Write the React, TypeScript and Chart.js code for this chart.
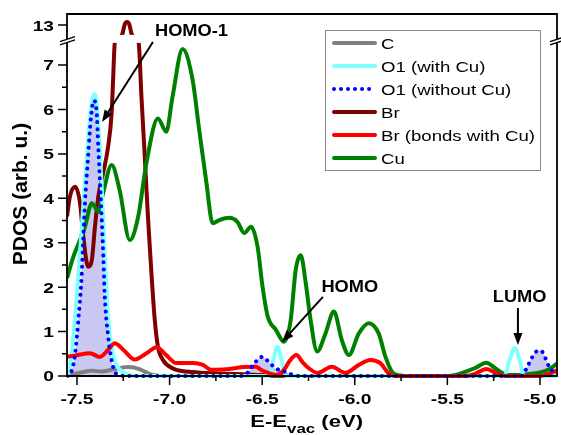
import React, { useEffect, useRef } from 'react';
import { Chart, registerables, LinearScale } from 'chart.js';

Chart.register(...registerables);

// ---------------- data ----------------
const X_MIN = -7.554;
const X_MAX = -4.908;
const X_MAJOR = [-7.5, -7.0, -6.5, -6.0, -5.5, -5.0];
const X_LABELS = ['-7.5', '-7.0', '-6.5', '-6.0', '-5.5', '-5.0'];
const X_MINOR = [-7.25, -6.75, -6.25, -5.75, -5.25];
const Y_MAJOR = [0, 1, 2, 3, 4, 5, 6, 7, 13];
const Y_LABELS = ['0', '1', '2', '3', '4', '5', '6', '7', '13'];
const Y_MINOR = [0.5, 1.5, 2.5, 3.5, 4.5, 5.5, 6.5];

// broken y axis: 0..7.55 then 12.75..13.25
const LOW_TOP = 7.55;
const HIGH_BOTTOM = 12.75;
const HIGH_TOP = 13.25;
const GAP = 0.1;

const SERIES_NAMES = ['C', 'O1 (with Cu)', 'O1 (without Cu)', 'Br', 'Br (bonds with Cu)', 'Cu'];

const C_E = [-7.554, -7.52, -7.48, -7.42, -7.37, -7.3, -7.22, -7.16, -7.11, -7.05, -4.908];
const C_PDOS = [0, 0.04, 0.08, 0.12, 0.1, 0.15, 0.2, 0.15, 0.05, 0, 0];

const O1CU_E = [-7.554, -7.54, -7.525, -7.508, -7.49, -7.475, -7.46, -7.445, -7.43, -7.415, -7.405, -7.395,
  -7.39, -7.378, -7.366, -7.355, -7.345, -7.335, -7.32, -7.3, -7.28, -7.25, -7.21, -7.18,
  -6.462, -6.44, -6.418, -6.395, -6.373, -5.193, -5.165, -5.136, -5.11, -5.086, -4.908];
const O1CU_PDOS = [0, 0.15, 0.6, 1.4, 2.4, 3.3, 4.2, 5.0, 5.8, 6.25, 6.35, 6.2,
  6.0, 5.2, 4.2, 3.2, 2.3, 1.5, 0.8, 0.4, 0.2, 0.08, 0.02, 0,
  0, 0.35, 0.66, 0.35, 0, 0, 0.35, 0.63, 0.35, 0, 0];

const O1_E = [-7.554, -7.53, -7.51, -7.493, -7.475, -7.466, -7.457, -7.44, -7.425, -7.41, -7.395, -7.385,
  -7.375, -7.366, -7.358, -7.35, -7.332, -7.313, -7.296, -7.27, -7.22, -6.62, -6.58, -6.535, -6.5,
  -6.465, -6.43, -6.38, -6.345, -6.3, -5.1, -5.075, -5.045, -5.02, -4.995, -4.97, -4.95, -4.93, -4.908];
const O1_PDOS = [0, 0.1, 0.5, 1.25, 2.25, 3.1, 3.9, 4.95, 5.8, 6.2, 6.0, 5.15,
  4.3, 3.5, 2.7, 1.8, 0.9, 0.35, 0.1, 0.02, 0, 0, 0.07, 0.32, 0.43,
  0.32, 0.18, 0.1, 0.04, 0, 0, 0.15, 0.4, 0.55, 0.57, 0.4, 0.2, 0.1, 0.05];

const BR_E = [-7.554, -7.538, -7.51, -7.484, -7.466, -7.44, -7.42, -7.403, -7.385, -7.359, -7.332, -7.313,
  -7.305, -7.296, -7.28, -7.265, -7.255, -7.242, -7.23, -7.218, -7.205, -7.19, -7.178, -7.167,
  -7.152, -7.134, -7.117, -7.098, -7.08, -7.063, -7.036, -6.982, -6.91, -6.8, -6.7, -6.6, -6.5,
  -6.4, -6.3, -4.908];
const BR_PDOS = [3.59, 4.04, 4.26, 3.9, 3.14, 2.46, 2.61, 3.36, 4.04, 4.56, 5.16, 5.92,
  6.67, 7.5, 9.5, 11.5, 12.8, 13.02, 13.07, 13.02, 12.8, 11.2, 9.2, 7.5,
  6.29, 4.94, 3.59, 2.31, 1.26, 0.66, 0.36, 0.17, 0.1, 0.07, 0.05, 0.04, 0.02,
  0.01, 0, 0];

const BRCU_E = [-7.554, -7.5, -7.43, -7.376, -7.332, -7.296, -7.25, -7.188, -7.125, -7.07, -7.018, -6.964,
  -6.875, -6.82, -6.776, -6.695, -6.606, -6.534, -6.507, -6.46, -6.426, -6.38, -6.35, -6.315,
  -6.28, -6.247, -6.2, -6.124, -6.05, -5.978, -5.916, -5.862, -5.817, -5.78, -5.4, -5.35,
  -5.29, -5.23, -5.18, -5.0, -4.95, -4.908];
const BRCU_PDOS = [0.43, 0.47, 0.51, 0.43, 0.59, 0.74, 0.59, 0.37, 0.51, 0.65, 0.47, 0.29,
  0.29, 0.25, 0.14, 0.15, 0.2, 0.21, 0.14, 0.06, 0.02, 0.15, 0.35, 0.47,
  0.3, 0.17, 0.07, 0.21, 0.07, 0.25, 0.36, 0.29, 0.06, 0, 0, 0.05,
  0.16, 0.05, 0, 0, 0.05, 0.13];

const CU_E = [-7.554, -7.52, -7.484, -7.457, -7.42, -7.385, -7.36, -7.313, -7.27, -7.215, -7.17, -7.125,
  -7.063, -7.018, -6.984, -6.93, -6.876, -6.84, -6.803, -6.767, -6.731, -6.677, -6.634, -6.597,
  -6.56, -6.525, -6.498, -6.47, -6.426, -6.382, -6.346, -6.319, -6.292, -6.265, -6.24, -6.203,
  -6.158, -6.113, -6.07, -6.032, -5.978, -5.925, -5.871, -5.835, -5.8, -5.763, -5.7, -5.5,
  -5.45, -5.4, -5.35, -5.29, -5.24, -5.2, -5.17, -5.1, -5.05, -5.0, -4.95, -4.908];
const CU_PDOS = [2.2, 2.68, 3.06, 3.36, 3.89, 3.7, 4.1, 4.75, 4.19, 3.06, 3.58, 4.8,
  5.8, 5.5, 6.29, 7.36, 6.67, 5.54, 4.41, 3.44, 3.51, 3.56, 3.47, 3.22,
  3.36, 2.91, 2.01, 1.34, 1.04, 0.77, 1.26, 2.39, 2.72, 2.1, 1.3, 0.55,
  0.96, 1.45, 0.81, 0.47, 0.96, 1.19, 0.96, 0.44, 0.1, 0.02, 0, 0,
  0.03, 0.1, 0.18, 0.3, 0.17, 0.06, 0.02, 0.02, 0.05, 0.08, 0.15, 0.28];

// annotations (data coordinates)
const ANNOTATIONS = [
  { text: 'HOMO-1', tx: -6.882, ty: 12.86, x1: -7.09, y1: 7.52, x2: -7.365, y2: 5.72 },
  { text: 'HOMO', tx: -6.027, ty: 2.0, x1: -6.172, y1: 1.78, x2: -6.393, y2: 0.765 },
  { text: 'LUMO', tx: -5.11, ty: 1.77, x1: -5.119, y1: 1.53, x2: -5.119, y2: 0.7 },
];

// ---------------- helpers ----------------
const FONT = '"Liberation Sans", Arial, sans-serif';

function toDisp(v: number): number {
  if (v <= LOW_TOP) return v;
  if (v < HIGH_BOTTOM) return LOW_TOP + ((v - LOW_TOP) / (HIGH_BOTTOM - LOW_TOP)) * GAP;
  return LOW_TOP + GAP + (v - HIGH_BOTTOM);
}
function fromDisp(d: number): number {
  if (d <= LOW_TOP) return d;
  if (d < LOW_TOP + GAP) return LOW_TOP + ((d - LOW_TOP) / GAP) * (HIGH_BOTTOM - LOW_TOP);
  return HIGH_BOTTOM + (d - LOW_TOP - GAP);
}

class BrokenLinearScale extends (LinearScale as any) {
  static id = 'brokenLinear';
  determineDataLimits() {
    (this as any).min = 0;
    (this as any).max = toDisp(HIGH_TOP);
  }
  buildTicks() {
    return Y_MAJOR.map((v) => ({ value: v }));
  }
  getPixelForValue(v: number) {
    return super.getPixelForValue(toDisp(v));
  }
  getValueForPixel(p: number) {
    return fromDisp(super.getValueForPixel(p));
  }
}
Chart.register(BrokenLinearScale as any);

const pts = (xs: number[], ys: number[]) => xs.map((x, i) => ({ x, y: ys[i] }));

function sText(ctx: CanvasRenderingContext2D, text: string, x: number, y: number, font: string, sx: number,
  align: 'left' | 'center' | 'right', baseline: CanvasTextBaseline = 'alphabetic') {
  ctx.save();
  ctx.font = font;
  ctx.textAlign = 'left';
  ctx.textBaseline = baseline;
  const w = ctx.measureText(text).width * sx;
  const x0 = align === 'center' ? x - w / 2 : align === 'right' ? x - w : x;
  ctx.translate(x0, y);
  ctx.scale(sx, 1);
  ctx.fillStyle = '#000';
  ctx.fillText(text, 0, 0);
  ctx.restore();
  return w;
}

function arrow(ctx: CanvasRenderingContext2D, x1: number, y1: number, x2: number, y2: number) {
  const a = Math.atan2(y2 - y1, x2 - x1);
  const L = 12, W = 4.5;
  const c = Math.cos(a), s = Math.sin(a);
  ctx.strokeStyle = '#000';
  ctx.fillStyle = '#000';
  ctx.lineWidth = 2;
  ctx.beginPath();
  ctx.moveTo(x1, y1);
  ctx.lineTo(x2 - c * L * 0.8, y2 - s * L * 0.8);
  ctx.stroke();
  ctx.beginPath();
  ctx.moveTo(x2, y2);
  ctx.lineTo(x2 - c * L - s * W, y2 - s * L + c * W);
  ctx.lineTo(x2 - c * L + s * W, y2 - s * L - c * W);
  ctx.closePath();
  ctx.fill();
}

const decorPlugin = {
  id: 'decor',
  afterDraw(chart: any) {
    const { ctx, chartArea: a } = chart;
    const x = chart.scales.x;
    const y = chart.scales.y;
    ctx.save();

    // gap of the broken axis
    const yBandLow = y.getPixelForValue(7.5);
    const yBandHigh = y.getPixelForValue(12.78);
    ctx.fillStyle = '#fff';
    ctx.fillRect(a.left + 1, yBandHigh, a.right - a.left - 2, yBandLow - yBandHigh);

    // frame
    ctx.strokeStyle = '#000';
    ctx.lineWidth = 1.8;
    ctx.beginPath();
    ctx.rect(a.left, a.top, a.right - a.left, a.bottom - a.top);
    ctx.stroke();

    // break marks
    const yc = y.getPixelForValue(LOW_TOP);
    for (const bx of [a.left, a.right]) {
      ctx.fillStyle = '#fff';
      ctx.beginPath();
      ctx.moveTo(bx - 7, yc + 1);
      ctx.lineTo(bx + 8, yc - 4);
      ctx.lineTo(bx + 8, yc - 0.7);
      ctx.lineTo(bx - 7, yc + 4.3);
      ctx.closePath();
      ctx.fill();
      ctx.strokeStyle = '#000';
      ctx.lineWidth = 1.4;
      ctx.beginPath();
      ctx.moveTo(bx - 7, yc + 1);
      ctx.lineTo(bx + 8, yc - 4);
      ctx.moveTo(bx - 7, yc + 4.3);
      ctx.lineTo(bx + 8, yc - 0.7);
      ctx.stroke();
    }

    // ticks
    ctx.strokeStyle = '#000';
    ctx.lineWidth = 1.5;
    ctx.beginPath();
    X_MAJOR.forEach((v) => {
      const px = x.getPixelForValue(v);
      ctx.moveTo(px, a.bottom);
      ctx.lineTo(px, a.bottom + 9);
    });
    X_MINOR.forEach((v) => {
      const px = x.getPixelForValue(v);
      ctx.moveTo(px, a.bottom);
      ctx.lineTo(px, a.bottom + 5);
    });
    Y_MAJOR.forEach((v) => {
      const py = y.getPixelForValue(v);
      ctx.moveTo(a.left - 9, py);
      ctx.lineTo(a.left, py);
    });
    Y_MINOR.forEach((v) => {
      const py = y.getPixelForValue(v);
      ctx.moveTo(a.left - 5, py);
      ctx.lineTo(a.left, py);
    });
    ctx.stroke();

    // tick labels
    const tickFont = `bold 15px ${FONT}`;
    X_MAJOR.forEach((v, i) => {
      sText(ctx, X_LABELS[i], x.getPixelForValue(v), a.bottom + 28, tickFont, 1.28, 'center');
    });
    Y_MAJOR.forEach((v, i) => {
      sText(ctx, Y_LABELS[i], a.left - 13, y.getPixelForValue(v) + 5.4, tickFont, 1.28, 'right');
    });

    // axis titles
    const cx = x.getPixelForValue(-6.26);
    const mainFont = `bold 17px ${FONT}`;
    const subFont = `bold 13px ${FONT}`;
    ctx.font = mainFont;
    const w1 = ctx.measureText('E-E').width * 1.3;
    const w3 = ctx.measureText(' (eV)').width * 1.3;
    ctx.font = subFont;
    const w2 = ctx.measureText('vac').width * 1.3;
    let sx = cx - (w1 + w2 + w3) / 2;
    sText(ctx, 'E-E', sx, a.bottom + 51, mainFont, 1.3, 'left');
    sx += w1;
    sText(ctx, 'vac', sx, a.bottom + 57, subFont, 1.3, 'left');
    sx += w2;
    sText(ctx, ' (eV)', sx, a.bottom + 51, mainFont, 1.3, 'left');

    ctx.save();
    ctx.translate(21, (a.top + a.bottom) / 2 - 1);
    ctx.rotate(-Math.PI / 2);
    ctx.font = `bold 21px ${FONT}`;
    ctx.fillStyle = '#000';
    ctx.textAlign = 'center';
    ctx.textBaseline = 'middle';
    ctx.fillText('PDOS (arb. u.)', 0, 0);
    ctx.restore();

    // legend
    const lx = 325.5, ly = 30.5, lw = 215, lh = 140;
    ctx.fillStyle = '#fff';
    ctx.fillRect(lx, ly, lw, lh);
    ctx.strokeStyle = '#8a8a8a';
    ctx.lineWidth = 1;
    ctx.strokeRect(lx, ly, lw, lh);
    chart.data.datasets.forEach((ds: any, i: number) => {
      const yy = 43 + 23 * i;
      ctx.save();
      ctx.strokeStyle = ds.borderColor;
      ctx.lineWidth = ds.borderWidth;
      ctx.lineCap = 'round';
      if (ds.borderDash && ds.borderDash.length) ctx.setLineDash(ds.borderDash);
      ctx.beginPath();
      ctx.moveTo(334, yy);
      ctx.lineTo(375, yy);
      ctx.stroke();
      ctx.restore();
      sText(ctx, ds.label, 381, yy + 5.5, `15px ${FONT}`, 1.24, 'left');
    });

    // annotations
    ANNOTATIONS.forEach((an) => {
      sText(ctx, an.text, x.getPixelForValue(an.tx), y.getPixelForValue(an.ty), `bold 16px ${FONT}`, 1.14, 'center', 'middle');
      arrow(ctx, x.getPixelForValue(an.x1), y.getPixelForValue(an.y1), x.getPixelForValue(an.x2), y.getPixelForValue(an.y2));
    });

    ctx.restore();
  },
};

export default function App() {
  const ref = useRef<HTMLCanvasElement | null>(null);
  useEffect(() => {
    if (!ref.current) return;
    const line = (label: string, xs: number[], ys: number[], color: string, order: number, extra: any = {}) => ({
      label,
      data: pts(xs, ys),
      borderColor: color,
      backgroundColor: color,
      borderWidth: 4,
      pointRadius: 0,
      cubicInterpolationMode: 'monotone',
      fill: false,
      order,
      ...extra,
    });
    const chart = new Chart(ref.current, {
      type: 'line',
      data: {
        datasets: [
          line(SERIES_NAMES[0], C_E, C_PDOS, '#808080', 6),
          line(SERIES_NAMES[1], O1CU_E, O1CU_PDOS, '#80ffff', 3),
          line(SERIES_NAMES[2], O1_E, O1_PDOS, '#0000ff', 1, {
            borderDash: [0.01, 7],
            borderCapStyle: 'round',
            fill: 'origin',
            backgroundColor: 'rgb(200,200,242)',
          }),
          line(SERIES_NAMES[3], BR_E, BR_PDOS, '#800000', 5),
          line(SERIES_NAMES[4], BRCU_E, BRCU_PDOS, '#ff0000', 2),
          line(SERIES_NAMES[5], CU_E, CU_PDOS, '#008000', 4),
        ] as any,
      },
      options: {
        responsive: false,
        animation: false,
        devicePixelRatio: 1,
        layout: { padding: { left: 67, right: 4, top: 14, bottom: 59 } },
        scales: {
          x: { type: 'linear', min: X_MIN, max: X_MAX, display: false },
          y: { type: 'brokenLinear' as any, display: false },
        },
        plugins: {
          legend: { display: false },
          tooltip: { enabled: false },
          filler: { drawTime: 'beforeDatasetsDraw' },
        } as any,
        events: [],
      },
      plugins: [decorPlugin],
    });
    return () => chart.destroy();
  }, []);
  return (
    <div style={{ position: 'fixed', left: 0, top: 0, width: 561, height: 435, background: '#fff' }}>
      <canvas ref={ref} width={561} height={435} style={{ display: 'block' }} />
    </div>
  );
}
